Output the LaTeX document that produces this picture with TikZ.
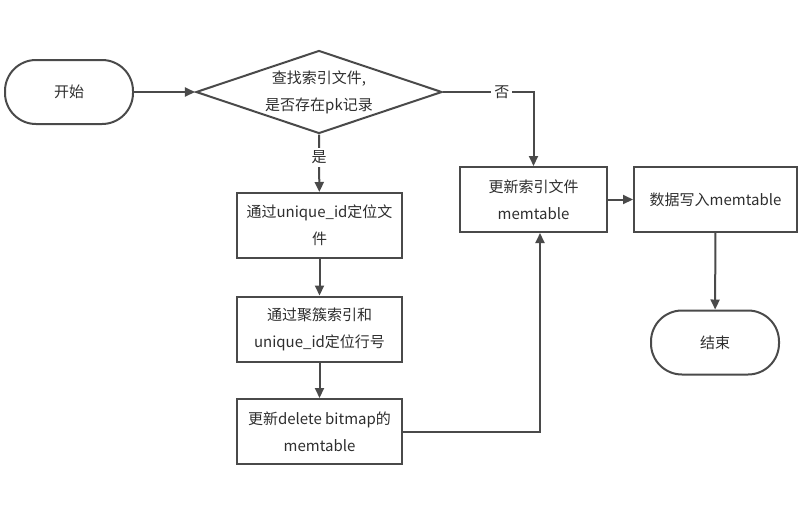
\documentclass[tikz,border=0pt]{standalone}
\usepackage{fontspec}
\setmainfont{Noto Sans CJK SC}
\usetikzlibrary{shapes.geometric, arrows.meta, calc}
\definecolor{linegray}{HTML}{4A4A4A}
\definecolor{textgray}{HTML}{2E2E2E}

\tikzset{
  base/.style={draw=linegray, line width=2pt, text=textgray, align=center,
    font=\fontsize{15}{27}\selectfont, inner sep=0pt},
  terminal/.style={base, rounded corners=31pt, minimum width=128pt, minimum height=64pt},
  process/.style={base, rectangle, minimum width=165pt, minimum height=65pt},
  decision/.style={base, diamond, aspect=3, minimum width=246pt, minimum height=83pt},
  flow/.style={draw=linegray, line width=2pt, -{Triangle[length=10pt,width=9pt]}},
  lbl/.style={fill=white, text=textgray, font=\fontsize{15}{16}\selectfont, inner sep=3pt}
}

\begin{document}
\begin{tikzpicture}[x=1pt, y=-1pt]
    \useasboundingbox (0,0) rectangle (805,531);

    % --- left column ---
    \node[terminal] (start) at (69,92) {开始};
    \node[decision] (check) at (319,92) {查找索引文件,\\是否存在pk记录};
    \node[process] (locfile) at (319.5,225.5) {通过unique\_id定位文\\件};
    \node[process] (locrow) at (319.5,329) {通过聚簇索引和\\unique\_id定位行号};
    \node[process] (delbm) at (319.5,431.5) {更新delete bitmap的\\memtable};

    % --- right side ---
    \node[process, minimum width=147pt] (updidx) at (533.5,199.5) {更新索引文件\\memtable};
    \node[process, minimum width=163pt] (write) at (715.5,199.5) {数据写入memtable};
    \node[terminal] (stop) at (715,342.5) {结束};

    \coordinate (turn) at (540,431.5);

    % --- connectors ---
    \draw[flow] (start) -- (check);
    \draw[flow] (check.south) -- node[lbl, pos=0.4] {是} (locfile);
    \draw[flow] (check.east) -- node[lbl, pos=0.65] {否} (check.east -| updidx.north) -- (updidx.north);
    \draw[flow] (locfile) -- (locrow);
    \draw[flow] (locrow) -- (delbm);
    \draw[flow] (delbm.east) -- (turn) -- (turn |- updidx.south);
    \draw[flow] (updidx) -- (write);
    \draw[flow] (write) -- (stop);
\end{tikzpicture}
\end{document}
